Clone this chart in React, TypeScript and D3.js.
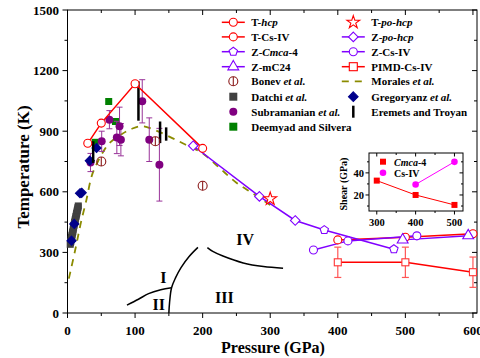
import React from "react";
import * as d3 from "d3";

// ---- data ----
const tHcpP = [30, 50, 100, 200];
const tHcpT = [840, 940, 1135, 815];
const tCsIVP = [400, 500, 600];
const tCsIVT = [362, 375, 392];
const tPoHcpP = [300];
const tPoHcpT = [565];
const zPoHcpP = [186, 284, 337];
const zPoHcpT = [828, 577, 458];
const zCmcaP = [380, 483];
const zCmcaT = [411, 316];
const zCsIVP = [364, 415, 517];
const zCsIVT = [312, 357, 382];
const zMC24P = [496, 593];
const zMC24T = [362, 383];
const pimdP = [400, 500, 600];
const pimdT = [251, 251, 202];
const pimdErr = [75, 75, 75];
const bonevP = [50, 130, 200];
const bonevT = [750, 850, 630];
const moralesP = [2, 5, 10, 15, 20, 28, 36, 45, 55, 65, 80, 95, 110, 130, 155, 175, 200, 225, 250, 275, 300];
const moralesT = [170, 215, 290, 370, 450, 560, 680, 750, 810, 850, 885, 912, 925, 905, 866, 833, 790, 718, 645, 590, 535];
const datchiP = [4, 4.5, 5, 5.5, 6, 6.5, 7, 7.5, 8, 8.5, 9, 9.5, 10, 10.5, 11, 11.5, 12, 12.5, 13, 13.5, 14, 14.5, 15, 15.5, 16];
const datchiT = [340, 348, 355, 365, 375, 383, 390, 398, 405, 415, 425, 433, 440, 448, 455, 463, 470, 478, 485, 493, 500, 508, 515, 523, 530];
const subP = [34, 50.6, 62, 77, 73, 79, 110.6, 121, 136];
const subT = [745, 850, 957, 924, 869, 858, 1048, 858, 734];
const subErr = [45, 50, 45, 95, 80, 80, 107, 108, 180];
const deemP = [41, 61, 71];
const deemT = [845, 1047, 948];
const gregP = [6, 10, 18.5, 21, 33, 43];
const gregT = [358, 441, 593, 595, 754, 817];
const eremP = [38, 105, 137, 146];
const eremLo = [743, 952, 841, 853];
const eremHi = [850, 1147, 948, 919];

// phase boundaries
const b12P = [88, 105, 120, 138, 154];
const b12T = [39, 68, 96, 115, 125];
const b13P = [150, 151, 154, 160, 168, 180, 193];
const b13T = [0, 50, 125, 175, 225, 280, 325];
const b34P = [207, 215, 230, 260, 290, 319];
const b34T = [324, 305, 282, 248, 230, 222];
const regions = [
  { name: "I", p: 142, t: 180 },
  { name: "II", p: 135, t: 45 },
  { name: "III", p: 232, t: 80 },
  { name: "IV", p: 263, t: 365 },
];

// inset: shear modulus
const shearP = [300, 400, 500];
const shearCmca = [33, 20, 11];
const shearCsP = [400, 500];
const shearCs = [29.5, 50];

const xTicks = [0, 100, 200, 300, 400, 500, 600];
const yTicks = [0, 300, 600, 900, 1200, 1500];

const RED = "#ff0000";
const VIO = "#8000ff";
const FONT = "'Liberation Serif', 'Times New Roman', serif";

type Shape = "circle" | "star" | "diamond" | "pentagon" | "triangle" | "square" | "bonev" | "fcircle" | "fsquare" | "fdiamond" | "bar";

const Marker: React.FC<{ shape: Shape; cx: number; cy: number; color: string; r?: number }> = ({ shape, cx, cy, color, r = 4 }) => {
  const t = `translate(${cx},${cy})`;
  if (shape === "circle") return <circle cx={cx} cy={cy} r={r} fill="#fff" stroke={color} strokeWidth={1.1} />;
  if (shape === "fcircle") return <circle cx={cx} cy={cy} r={r} fill={color} />;
  if (shape === "bonev")
    return (
      <g>
        <circle cx={cx} cy={cy} r={r + 0.5} fill="none" stroke={color} strokeWidth={1.1} />
        <line x1={cx} x2={cx} y1={cy - r - 0.5} y2={cy + r + 0.5} stroke={color} strokeWidth={1.1} />
      </g>
    );
  if (shape === "square" || shape === "fsquare")
    return (
      <rect x={cx - r} y={cy - r} width={2 * r} height={2 * r}
        fill={shape === "fsquare" ? color : "#fff"} stroke={color} strokeWidth={shape === "fsquare" ? 0 : 1.1} />
    );
  if (shape === "diamond" || shape === "fdiamond") {
    const k = r * 1.2;
    return (
      <path d={`M${cx},${cy - k}L${cx + k},${cy}L${cx},${cy + k}L${cx - k},${cy}Z`}
        fill={shape === "fdiamond" ? color : "#fff"} stroke={color} strokeWidth={1.1} />
    );
  }
  if (shape === "pentagon") {
    const pts = d3.range(5).map((i) => {
      const a = -Math.PI / 2 + (i * 2 * Math.PI) / 5;
      return `${cx + r * 1.1 * Math.cos(a)},${cy + r * 1.1 * Math.sin(a)}`;
    });
    return <polygon points={pts.join(" ")} fill="#fff" stroke={color} strokeWidth={1.1} />;
  }
  if (shape === "triangle")
    return <path transform={t} d={d3.symbol(d3.symbolTriangle, r * r * 3.2)() as string} fill="#fff" stroke={color} strokeWidth={1.1} />;
  if (shape === "star")
    return <path transform={t} d={d3.symbol(d3.symbolStar, r * r * 3.2)() as string} fill="#fff" stroke={color} strokeWidth={1.1} />;
  if (shape === "bar") return <line x1={cx} x2={cx} y1={cy - 6} y2={cy + 6} stroke={color} strokeWidth={2.5} />;
  return null;
};

type Entry = { parts: [string, boolean][]; shape?: Shape; color: string; line?: boolean; dash?: boolean };

const legendCol1: Entry[] = [
  { parts: [["T-", false], ["hcp", true]], shape: "circle", color: RED, line: true },
  { parts: [["T-Cs-IV", false]], shape: "circle", color: RED, line: true },
  { parts: [["Z-", false], ["Cmca", true], ["-4", false]], shape: "pentagon", color: VIO, line: true },
  { parts: [["Z-mC24", false]], shape: "triangle", color: VIO, line: true },
  { parts: [["Bonev ", false], ["et al.", true]], shape: "bonev", color: "#8b1a1a" },
  { parts: [["Datchi ", false], ["et al.", true]], shape: "fsquare", color: "#404040" },
  { parts: [["Subramanian ", false], ["et al.", true]], shape: "fcircle", color: "#800080" },
  { parts: [["Deemyad and Silvera", false]], shape: "fsquare", color: "#008000" },
];
const legendCol2: Entry[] = [
  { parts: [["T-", false], ["po-hcp", true]], shape: "star", color: RED },
  { parts: [["Z-", false], ["po-hcp", true]], shape: "diamond", color: VIO, line: true },
  { parts: [["Z-Cs-IV", false]], shape: "circle", color: VIO, line: true },
  { parts: [["PIMD-Cs-IV", false]], shape: "square", color: RED, line: true },
  { parts: [["Morales ", false], ["et al.", true]], color: "#8b8b00", dash: true },
  { parts: [["Gregoryanz ", false], ["et al.", true]], shape: "fdiamond", color: "#00008b" },
  { parts: [["Eremets and Troyan", false]], shape: "bar", color: "#000" },
];
const legendRows = [22.3, 36.9, 51.7, 66.7, 81.3, 96.7, 111.7, 126.7];

export default function App() {
  const x = d3.scaleLinear().domain([0, 606]).range([67.5, 477]);
  const y = d3.scaleLinear().domain([0, 1500]).range([313, 10]);
  const ix = d3.scaleLinear().domain([280, 522]).range([369, 463]);
  const iy = d3.scaleLinear().domain([5.5, 58]).range([211, 153]);

  const line = (ps: number[], ts: number[]) =>
    d3.line<number>().x((p) => x(p)).y((_, i) => y(ts[i]))(ps) as string;
  const curve = (ps: number[], ts: number[]) =>
    d3.line<number>().x((p) => x(p)).y((_, i) => y(ts[i])).curve(d3.curveCatmullRom)(ps) as string;
  const iline = (ps: number[], vs: number[]) =>
    d3.line<number>().x((p) => ix(p)).y((_, i) => iy(vs[i]))(ps) as string;

  const renderLegend = (entries: Entry[], x0: number) =>
    entries.map((e, i) => {
      const cy = legendRows[i];
      return (
        <g key={i}>
          {e.line && <line x1={x0 - 11.5} x2={x0 + 11.5} y1={cy} y2={cy} stroke={e.color} strokeWidth={1.5} />}
          {e.dash && <line x1={x0 - 11.5} x2={x0 + 11.5} y1={cy} y2={cy} stroke={e.color} strokeWidth={1.8} strokeDasharray="7,6" />}
          {e.shape && <Marker shape={e.shape} cx={x0} cy={cy} color={e.color} />}
          <text x={x0 + 18} y={cy + 4} fontSize={11} fontWeight="bold" fontFamily={FONT}>
            {e.parts.map(([s, it], j) => (
              <tspan key={j} fontStyle={it ? "italic" : "normal"}>{s}</tspan>
            ))}
          </text>
        </g>
      );
    });

  const xMinor = d3.range(0, 601, 50);
  const yMinor = d3.range(0, 1501, 150);

  return (
    <svg width={480} height={358} style={{ position: "absolute", left: 0, top: 0, background: "#fff" }} fontFamily={FONT}>
      {/* frame */}
      <rect x={67.5} y={10} width={409.5} height={303} fill="none" stroke="#000" strokeWidth={1} />
      {xMinor.map((p) => (
        <g key={p}>
          <line x1={x(p)} x2={x(p)} y1={313} y2={p % 100 === 0 ? 318 : 316} stroke="#000" />
          <line x1={x(p)} x2={x(p)} y1={10} y2={p % 100 === 0 ? 15 : 13} stroke="#000" />
        </g>
      ))}
      {yMinor.map((t) => (
        <g key={t}>
          <line x1={67.5} x2={t % 300 === 0 ? 62.5 : 64.5} y1={y(t)} y2={y(t)} stroke="#000" />
          <line x1={477} x2={t % 300 === 0 ? 472 : 474} y1={y(t)} y2={y(t)} stroke="#000" />
        </g>
      ))}
      {xTicks.map((p) => (
        <text key={p} x={x(p)} y={335} textAnchor="middle" fontSize={13} fontWeight="bold">{p}</text>
      ))}
      {yTicks.map((t) => (
        <text key={t} x={59} y={y(t) + 4.5} textAnchor="end" fontSize={13} fontWeight="bold">{t}</text>
      ))}
      <text x={273} y={353} textAnchor="middle" fontSize={16} fontWeight="bold">Pressure (GPa)</text>
      <text transform={`translate(29,167) rotate(-90)`} textAnchor="middle" fontSize={17} fontWeight="bold">Temperature (K)</text>

      {/* phase boundaries */}
      <path d={curve(b12P, b12T)} fill="none" stroke="#000" strokeWidth={1.5} />
      <path d={curve(b13P, b13T)} fill="none" stroke="#000" strokeWidth={1.5} />
      <path d={curve(b34P, b34T)} fill="none" stroke="#000" strokeWidth={1.5} />
      {regions.map((r) => (
        <text key={r.name} x={x(r.p)} y={y(r.t) + 6} textAnchor="middle" fontSize={16} fontWeight="bold">{r.name}</text>
      ))}

      {/* Datchi */}
      {datchiP.map((p, i) => (
        <Marker key={i} shape="fsquare" cx={x(p)} cy={y(datchiT[i])} color="#404040" r={3.5} />
      ))}
      {/* Morales */}
      <path d={curve(moralesP, moralesT)} fill="none" stroke="#8b8b00" strokeWidth={1.8} strokeDasharray="7,6" />
      {/* Deemyad */}
      {deemP.map((p, i) => (
        <Marker key={i} shape="fsquare" cx={x(p)} cy={y(deemT[i])} color="#008000" r={3.5} />
      ))}
      {/* Subramanian */}
      {subP.map((p, i) => (
        <g key={i} stroke="#993399" strokeWidth={1}>
          <line x1={x(p)} x2={x(p)} y1={y(subT[i] - subErr[i])} y2={y(subT[i] + subErr[i])} />
          <line x1={x(p) - 3} x2={x(p) + 3} y1={y(subT[i] - subErr[i])} y2={y(subT[i] - subErr[i])} />
          <line x1={x(p) - 3} x2={x(p) + 3} y1={y(subT[i] + subErr[i])} y2={y(subT[i] + subErr[i])} />
        </g>
      ))}
      {subP.map((p, i) => (
        <Marker key={i} shape="fcircle" cx={x(p)} cy={y(subT[i])} color="#800080" r={4} />
      ))}
      {/* Gregoryanz */}
      {gregP.map((p, i) => (
        <Marker key={i} shape="fdiamond" cx={x(p)} cy={y(gregT[i])} color="#00008b" r={3.8} />
      ))}
      {/* Eremets */}
      {eremP.map((p, i) => (
        <line key={i} x1={x(p)} x2={x(p)} y1={y(eremLo[i])} y2={y(eremHi[i])} stroke="#000" strokeWidth={2.5} />
      ))}
      {/* Bonev */}
      {bonevP.map((p, i) => (
        <Marker key={i} shape="bonev" cx={x(p)} cy={y(bonevT[i])} color="#8b1a1a" />
      ))}

      {/* theory lines */}
      <path d={line(tHcpP, tHcpT)} fill="none" stroke={RED} strokeWidth={1.5} />
      <path d={line(tCsIVP, tCsIVT)} fill="none" stroke={RED} strokeWidth={1.5} />
      <path d={line(zPoHcpP.concat(zCmcaP), zPoHcpT.concat(zCmcaT))} fill="none" stroke={VIO} strokeWidth={1.5} />
      <path d={line(zCsIVP, zCsIVT)} fill="none" stroke={VIO} strokeWidth={1.5} />
      <path d={line(zMC24P, zMC24T)} fill="none" stroke={VIO} strokeWidth={1.5} />
      <path d={line(pimdP, pimdT)} fill="none" stroke={RED} strokeWidth={1.5} />
      {pimdP.map((p, i) => (
        <g key={i} stroke="#ff5555" strokeWidth={1.2}>
          <line x1={x(p)} x2={x(p)} y1={y(pimdT[i] - pimdErr[i])} y2={y(pimdT[i] + pimdErr[i])} />
          <line x1={x(p) - 3.5} x2={x(p) + 3.5} y1={y(pimdT[i] - pimdErr[i])} y2={y(pimdT[i] - pimdErr[i])} />
          <line x1={x(p) - 3.5} x2={x(p) + 3.5} y1={y(pimdT[i] + pimdErr[i])} y2={y(pimdT[i] + pimdErr[i])} />
        </g>
      ))}
      {pimdP.map((p, i) => (
        <Marker key={i} shape="square" cx={x(p)} cy={y(pimdT[i])} color="#ff3333" r={3.5} />
      ))}
      {tHcpP.map((p, i) => <Marker key={i} shape="circle" cx={x(p)} cy={y(tHcpT[i])} color={RED} />)}
      {tCsIVP.map((p, i) => <Marker key={i} shape="circle" cx={x(p)} cy={y(tCsIVT[i])} color={RED} />)}
      {zPoHcpP.map((p, i) => <Marker key={i} shape="diamond" cx={x(p)} cy={y(zPoHcpT[i])} color={VIO} />)}
      {zCmcaP.map((p, i) => <Marker key={i} shape="pentagon" cx={x(p)} cy={y(zCmcaT[i])} color={VIO} />)}
      {zCsIVP.map((p, i) => <Marker key={i} shape="circle" cx={x(p)} cy={y(zCsIVT[i])} color={VIO} />)}
      {zMC24P.map((p, i) => <Marker key={i} shape="triangle" cx={x(p)} cy={y(zMC24T[i])} color={VIO} />)}
      {tPoHcpP.map((p, i) => <Marker key={i} shape="star" cx={x(p)} cy={y(tPoHcpT[i])} color={RED} />)}

      {/* legend */}
      {renderLegend(legendCol1, 233.3)}
      {renderLegend(legendCol2, 353.3)}

      {/* inset */}
      <rect x={369} y={153} width={94} height={58} fill="#fff" stroke="#000" strokeWidth={1} />
      {d3.range(300, 501, 50).map((p) => (
        <g key={p}>
          <line x1={ix(p)} x2={ix(p)} y1={211} y2={p % 100 === 0 ? 214.5 : 213} stroke="#000" />
          <line x1={ix(p)} x2={ix(p)} y1={153} y2={p % 100 === 0 ? 156.5 : 155} stroke="#000" />
        </g>
      ))}
      {[300, 400, 500].map((p) => (
        <text key={p} x={ix(p)} y={226} textAnchor="middle" fontSize={10.5} fontWeight="bold">{p}</text>
      ))}
      {[10, 20, 30, 40, 50].map((v) => (
        <g key={v}>
          <line x1={369} x2={v % 20 === 0 ? 365.5 : 367} y1={iy(v)} y2={iy(v)} stroke="#000" />
          <line x1={463} x2={v % 20 === 0 ? 459.5 : 461} y1={iy(v)} y2={iy(v)} stroke="#000" />
        </g>
      ))}
      {[20, 40].map((v) => (
        <text key={v} x={364} y={iy(v) + 3.8} textAnchor="end" fontSize={10.5} fontWeight="bold">{v}</text>
      ))}
      <text transform={`translate(347,184) rotate(-90)`} textAnchor="middle" fontSize={10} fontWeight="bold">Shear (GPa)</text>
      <path d={iline(shearP, shearCmca)} fill="none" stroke={RED} strokeWidth={1} />
      <path d={iline(shearCsP, shearCs)} fill="none" stroke="#ff00ff" strokeWidth={1} />
      {shearP.map((p, i) => <Marker key={i} shape="fsquare" cx={ix(p)} cy={iy(shearCmca[i])} color={RED} r={3} />)}
      {shearCsP.map((p, i) => <Marker key={i} shape="fcircle" cx={ix(p)} cy={iy(shearCs[i])} color="#ff00ff" r={3.3} />)}
      <Marker shape="fsquare" cx={383} cy={161.7} color={RED} r={3} />
      <Marker shape="fcircle" cx={383} cy={172.7} color="#ff00ff" r={3.3} />
      <text x={394} y={165.5} fontSize={10} fontWeight="bold"><tspan fontStyle="italic">Cmca</tspan>-4</text>
      <text x={394} y={176.5} fontSize={10} fontWeight="bold">Cs-IV</text>
    </svg>
  );
}
